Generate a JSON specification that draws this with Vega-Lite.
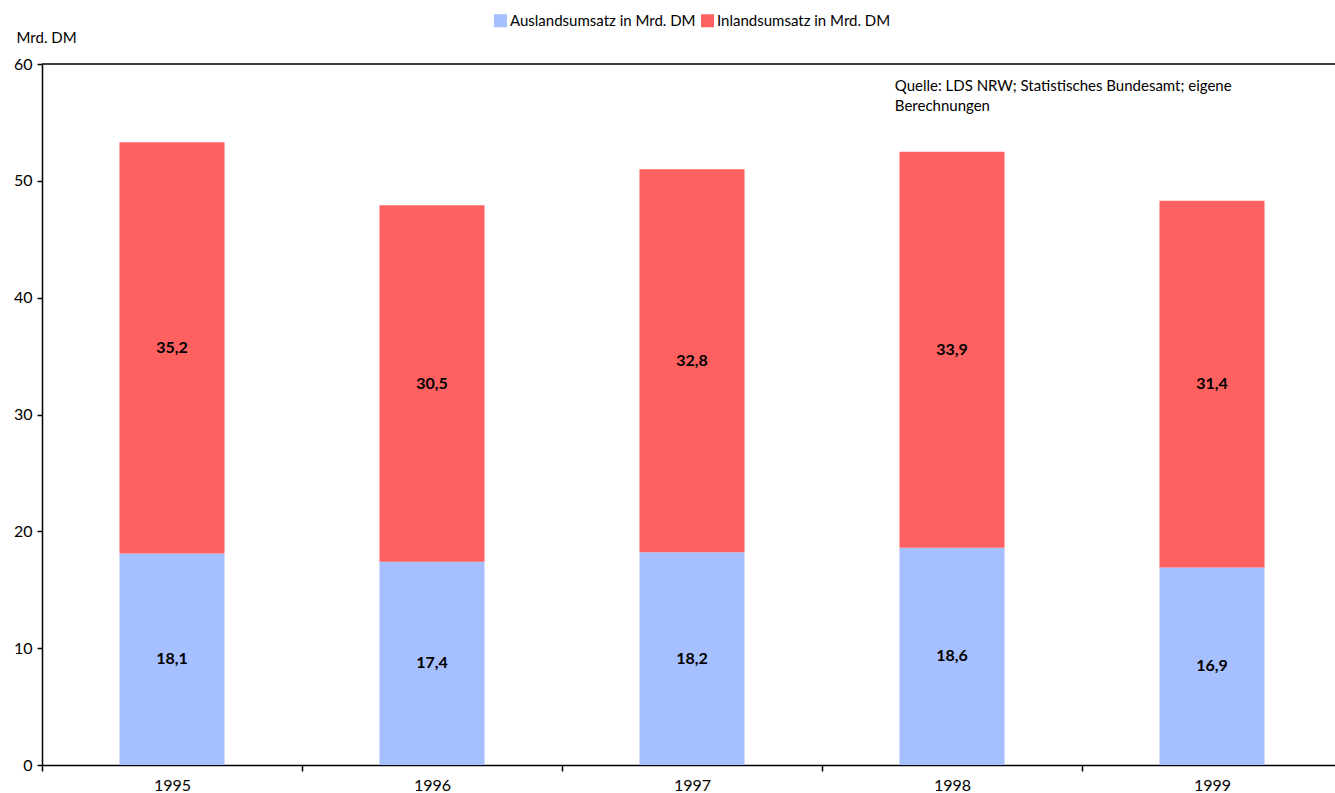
{
  "$schema": "https://vega.github.io/schema/vega-lite/v6.json",
  "width": 1300,
  "height": 701,
  "autosize": "none",
  "padding": {"left": 42, "top": 64, "right": 0, "bottom": 28},
  "background": "white",
  "config": {
    "font": "Lato",
    "view": {"stroke": null},
    "locale": {"number": {"decimal": ",", "thousands": ".", "grouping": [3], "currency": ["", " €"]}},
    "axis": {"labelColor": "#000", "titleColor": "#000", "domainColor": "#000", "tickColor": "#000", "labelFont": "Lato", "titleFont": "Lato", "grid": false}
  },
  "layer": [
    {
      "data": {
        "values": [
          {"Jahr": "1995", "Art": "Auslandsumsatz in Mrd. DM", "Ordnung": 1, "Wert": 18.1},
          {"Jahr": "1995", "Art": "Inlandsumsatz in Mrd. DM", "Ordnung": 2, "Wert": 35.2},
          {"Jahr": "1996", "Art": "Auslandsumsatz in Mrd. DM", "Ordnung": 1, "Wert": 17.4},
          {"Jahr": "1996", "Art": "Inlandsumsatz in Mrd. DM", "Ordnung": 2, "Wert": 30.5},
          {"Jahr": "1997", "Art": "Auslandsumsatz in Mrd. DM", "Ordnung": 1, "Wert": 18.2},
          {"Jahr": "1997", "Art": "Inlandsumsatz in Mrd. DM", "Ordnung": 2, "Wert": 32.8},
          {"Jahr": "1998", "Art": "Auslandsumsatz in Mrd. DM", "Ordnung": 1, "Wert": 18.6},
          {"Jahr": "1998", "Art": "Inlandsumsatz in Mrd. DM", "Ordnung": 2, "Wert": 33.9},
          {"Jahr": "1999", "Art": "Auslandsumsatz in Mrd. DM", "Ordnung": 1, "Wert": 16.9},
          {"Jahr": "1999", "Art": "Inlandsumsatz in Mrd. DM", "Ordnung": 2, "Wert": 31.4}
        ]
      },
      "transform": [
        {"stack": "Wert", "groupby": ["Jahr"], "sort": [{"field": "Ordnung", "order": "ascending"}], "as": ["y0", "y1"]},
        {"calculate": "(datum.y0 + datum.y1) / 2", "as": "ymid"}
      ],
      "layer": [
        {
          "mark": {"type": "bar", "width": {"band": 0.404}},
          "encoding": {
            "x": {
              "field": "Jahr", "type": "nominal",
              "scale": {"paddingInner": 0, "paddingOuter": 0},
              "axis": {"title": null, "labelAngle": 0, "labelFontSize": 16, "labelPadding": 6, "tickBand": "extent", "tickSize": 6, "domainWidth": 1.5, "tickWidth": 1.5}
            },
            "y": {
              "field": "y0", "type": "quantitative",
              "scale": {"domain": [0, 60], "nice": false},
              "axis": {"values": [0, 10, 20, 30, 40, 50, 60], "title": "Mrd. DM", "titleAngle": 0, "titleX": -26, "titleY": -27, "titleAlign": "left", "titleBaseline": "middle", "titleFontSize": 15, "titleFontWeight": "normal", "labelFontSize": 16, "labelPadding": 5, "tickSize": 5, "domainWidth": 1.5, "tickWidth": 1.5}
            },
            "y2": {"field": "y1"},
            "color": {
              "field": "Art", "type": "nominal",
              "scale": {"domain": ["Auslandsumsatz in Mrd. DM", "Inlandsumsatz in Mrd. DM"], "range": ["#A6BFFF", "#FF6161"]},
              "legend": {"title": null, "orient": "none", "direction": "horizontal", "legendX": 451, "legendY": -51, "symbolType": "square", "symbolSize": 169, "symbolStrokeWidth": 0, "labelFontSize": 15, "labelOffset": 2, "columnPadding": 4, "labelLimit": 0, "labelColor": "#000", "labelFont": "Lato"}
            }
          }
        },
        {
          "mark": {"type": "text", "fontWeight": "bold", "fontSize": 16, "color": "#000", "baseline": "middle"},
          "encoding": {
            "x": {"field": "Jahr", "type": "nominal"},
            "y": {"field": "ymid", "type": "quantitative"},
            "text": {"field": "Wert", "type": "quantitative", "format": ".1f"}
          }
        }
      ]
    },
    {
      "data": {"values": [{"Linie": "oben"}]},
      "mark": {"type": "rule", "color": "#000", "strokeWidth": 1.5},
      "encoding": {"y": {"datum": 60}}
    },
    {
      "data": {"values": [{"Quelle": "Quelle: LDS NRW; Statistisches Bundesamt; eigene Berechnungen"}]},
      "mark": {"type": "text", "align": "left", "baseline": "middle", "fontSize": 15, "fontWeight": "normal", "color": "#000", "lineHeight": 20, "text": ["Quelle: LDS NRW; Statistisches Bundesamt; eigene", "Berechnungen"]},
      "encoding": {
        "x": {"datum": "1998", "bandPosition": 0.28},
        "y": {"datum": 58.1}
      }
    }
  ]
}
